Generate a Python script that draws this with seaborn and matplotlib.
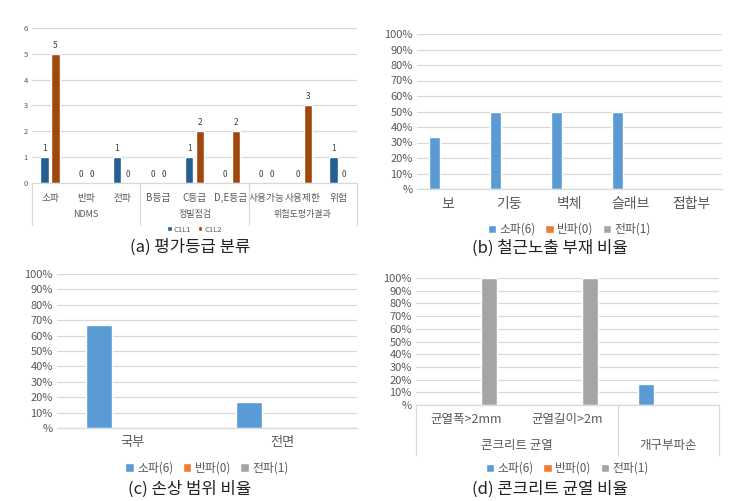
import numpy as np
import pandas as pd
import matplotlib
matplotlib.use("Agg")
import matplotlib.pyplot as plt
import matplotlib.transforms as mtransforms
import seaborn as sns

sns.set_theme(style="white")
plt.rcParams['font.family'] = ['Noto Sans CJK KR', 'DejaVu Sans']

# ---------------- data ----------------
# (a)
a_categories = ["소파", "반파", "전파", "B등급", "C등급", "D,E등급", "사용가능", "사용제한", "위험"]
a_groups = ["NDMS", "정밀점검", "위험도평가결과"]
a_group_sizes = [3, 3, 3]
a_c1l1 = [1, 0, 1, 0, 1, 0, 0, 0, 1]
a_c1l2 = [5, 0, 0, 0, 2, 2, 0, 3, 0]
a_series = ["C1L1", "C1L2"]

# (b)
b_categories = ["보", "기둥", "벽체", "슬래브", "접합부"]
b_sopa = [0.333, 0.5, 0.5, 0.5, 0.0]
b_banpa = [0, 0, 0, 0, 0]
b_jeonpa = [0, 0, 0, 0, 0]

# (c)
c_categories = ["국부", "전면"]
c_sopa = [0.667, 0.167]
c_banpa = [0, 0]
c_jeonpa = [0, 0]

# (d)
d_categories = ["균열폭>2mm", "균열길이>2m", ""]
d_groups = ["콘크리트 균열", "개구부파손"]
d_group_sizes = [2, 1]
d_sopa = [0, 0, 0.167]
d_banpa = [0, 0, 0]
d_jeonpa = [1.0, 1.0, 0]

damage_series = ["소파(6)", "반파(0)", "전파(1)"]
pct_ticks = [0, 0.1, 0.2, 0.3, 0.4, 0.5, 0.6, 0.7, 0.8, 0.9, 1.0]
pct_labels = ["%", "10%", "20%", "30%", "40%", "50%", "60%", "70%", "80%", "90%", "100%"]

captions = ["(a) 평가등급 분류", "(b) 철근노출 부재 비율", "(c) 손상 범위 비율", "(d) 콘크리트 균열 비율"]

# ---------------- style ----------------
A_COLORS = ["#255E91", "#9E480E"]
D_COLORS = ["#5B9BD5", "#ED7D31", "#A5A5A5"]
GRID = "#D9D9D9"
TXT = "#595959"

W, H = 749, 501
fig = plt.figure(figsize=(W / 100, H / 100), dpi=100)


def px_axes(x0, x1, ytop, ybot):
    return fig.add_axes([x0 / W, 1 - ybot / H, (x1 - x0) / W, (ybot - ytop) / H])


def style(ax, ysize, xsize, pad):
    for s in ["top", "right", "left"]:
        ax.spines[s].set_visible(False)
    ax.spines["bottom"].set_color(GRID)
    ax.spines["bottom"].set_linewidth(0.9)
    ax.yaxis.grid(True, color=GRID, lw=0.9)
    ax.xaxis.grid(False)
    ax.set_axisbelow(True)
    ax.tick_params(axis="y", length=0, labelsize=ysize, labelcolor=TXT, pad=3)
    ax.tick_params(axis="x", length=0, labelsize=xsize, labelcolor=TXT, pad=pad)
    ax.set_xlabel("")
    ax.set_ylabel("")


def long_df(cats, series, values):
    rows = []
    for s, vals in zip(series, values):
        for c, v in zip(cats, vals):
            rows.append({"cat": c, "series": s, "value": v})
    return pd.DataFrame(rows)


def group_axis(ax, n_cats, sizes, names, y_group, y_bottom, fs):
    trans = mtransforms.blended_transform_factory(ax.transData, ax.transAxes)
    edges = [-0.5]
    for s in sizes:
        edges.append(edges[-1] + s)
    for e in edges:
        ax.plot([e, e], [0, y_bottom], transform=trans, color=GRID, lw=0.9, clip_on=False)
    for i, nm in enumerate(names):
        cx = (edges[i] + edges[i + 1]) / 2
        ax.text(cx, y_group, nm, transform=trans, ha="center", va="center", fontsize=fs, color=TXT)


# ---------------- (a) ----------------
axA = px_axes(32, 357, 28, 183)
dfa = long_df(list(range(len(a_categories))), a_series, [a_c1l1, a_c1l2])
sns.barplot(data=dfa, x="cat", y="value", hue="series", palette=A_COLORS, ax=axA,
            width=0.6, gap=0.22, saturation=1, errorbar=None)
axA.set_ylim(0, 6)
axA.set_yticks([0, 1, 2, 3, 4, 5, 6])
axA.set_xticks(range(len(a_categories)))
axA.set_xticklabels(a_categories)
axA.set_xlim(-0.5, len(a_categories) - 0.5)
style(axA, 5.5, 7, 7)
for cont in axA.containers:
    axA.bar_label(cont, fmt="%d", fontsize=6, color="#404040", padding=3)
group_axis(axA, len(a_categories), a_group_sizes, a_groups, -0.205, -0.27, 6.5)
axA.legend(loc="center", bbox_to_anchor=(0.5, -0.30), ncol=2, frameon=False,
           fontsize=5.5, handlelength=0.6, handleheight=0.6, handletextpad=0.3,
           columnspacing=0.8, labelcolor=TXT)


def pct_chart(ax, cats, sopa, banpa, jeonpa, width, gap, xsize, pad, leg_y):
    df = long_df(list(range(len(cats))), damage_series, [sopa, banpa, jeonpa])
    sns.barplot(data=df, x="cat", y="value", hue="series", palette=D_COLORS, ax=ax,
                width=width, gap=gap, saturation=1, errorbar=None)
    ax.set_ylim(0, 1)
    ax.set_yticks(pct_ticks)
    ax.set_yticklabels(pct_labels)
    ax.set_xticks(range(len(cats)))
    ax.set_xticklabels(cats)
    ax.set_xlim(-0.5, len(cats) - 0.5)
    style(ax, 8, xsize, pad)
    ax.legend(loc="center", bbox_to_anchor=(0.5, leg_y), ncol=3, frameon=False,
              fontsize=8.5, handlelength=0.7, handleheight=0.7, handletextpad=0.3,
              columnspacing=0.8, labelcolor=TXT)


# ---------------- (b) ----------------
axB = px_axes(417, 722, 34, 189)
pct_chart(axB, b_categories, b_sopa, b_banpa, b_jeonpa, 0.64, 0.15, 10, 6, -0.26)

# ---------------- (c) ----------------
axC = px_axes(57, 357, 274, 428)
pct_chart(axC, c_categories, c_sopa, c_banpa, c_jeonpa, 0.66, 0.21, 9.5, 6, -0.26)

# ---------------- (d) ----------------
axD = px_axes(416, 719, 278, 405)
pct_chart(axD, d_categories, d_sopa, d_banpa, d_jeonpa, 0.68, 0.3, 9, 6, -0.50)
group_axis(axD, len(d_categories), d_group_sizes, d_groups, -0.315, -0.39, 9)

# ---------------- captions ----------------
for (cx, cy), cap in zip([(190, 247), (550, 248), (190, 489), (550, 489)], captions):
    fig.text(cx / W, 1 - cy / H, cap, ha="center", va="center", fontsize=12, color="#222222")

fig.savefig("out.png", dpi=100)
